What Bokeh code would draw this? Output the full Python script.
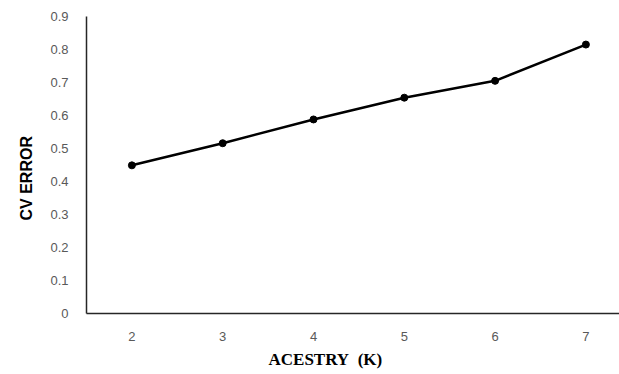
from bokeh.plotting import figure
from bokeh.models import Range1d, FixedTicker, Title
from bokeh.embed import file_html
from bokeh.resources import INLINE

# Cross-validation error for each number of ancestral populations (K)
k_values = [2, 3, 4, 5, 6, 7]
cv_error = [0.449, 0.516, 0.588, 0.654, 0.705, 0.815]
y_ticks = [0, 0.1, 0.2, 0.3, 0.4, 0.5, 0.6, 0.7, 0.8, 0.9]
y_tick_labels = {0: "0", 0.1: "0.1", 0.2: "0.2", 0.3: "0.3", 0.4: "0.4",
                 0.5: "0.5", 0.6: "0.6", 0.7: "0.7", 0.8: "0.8", 0.9: "0.9"}

p = figure(width=619, height=374, output_backend="svg", toolbar_location=None,
           x_range=Range1d(1.5, 7.37), y_range=Range1d(0, 0.9),
           min_border_left=86, min_border_right=0, min_border_top=16,
           min_border_bottom=61)
p.outline_line_color = None
p.grid.grid_line_color = None
p.background_fill_color = "white"
p.border_fill_color = "white"

p.line(k_values, cv_error, line_color="black", line_width=2.5)
p.scatter(k_values, cv_error, size=7, color="black")

# y axis
p.yaxis.ticker = FixedTicker(ticks=y_ticks)
p.yaxis.major_label_overrides = y_tick_labels
p.yaxis.major_tick_line_color = None
p.yaxis.minor_tick_line_color = None
p.yaxis.axis_line_color = "#262626"
p.yaxis.axis_line_width = 1.5
p.yaxis.major_label_text_font = "Liberation Sans"
p.yaxis.major_label_text_font_size = "13px"
p.yaxis.major_label_text_color = "#595959"
p.yaxis.major_label_standoff = 12

# x axis
p.xaxis.ticker = FixedTicker(ticks=k_values)
p.xaxis.major_tick_line_color = None
p.xaxis.minor_tick_line_color = None
p.xaxis.axis_line_color = "#262626"
p.xaxis.axis_line_width = 1.5
p.xaxis.major_label_text_font = "Liberation Sans"
p.xaxis.major_label_text_font_size = "13px"
p.xaxis.major_label_text_color = "#595959"
p.xaxis.major_label_standoff = 12

# axis titles
p.add_layout(Title(text="CV ERROR", align="left", offset=93, standoff=26,
                   text_font="Liberation Sans", text_font_style="bold",
                   text_font_size="16px", text_color="black"), "left")
p.add_layout(Title(text="ACESTRY\u00a0\u00a0(K)", align="left", offset=182, standoff=9,
                   text_font="Liberation Serif", text_font_style="bold",
                   text_font_size="17px", text_color="black"), "below")

open("out.html", "w").write(file_html(p, INLINE))
